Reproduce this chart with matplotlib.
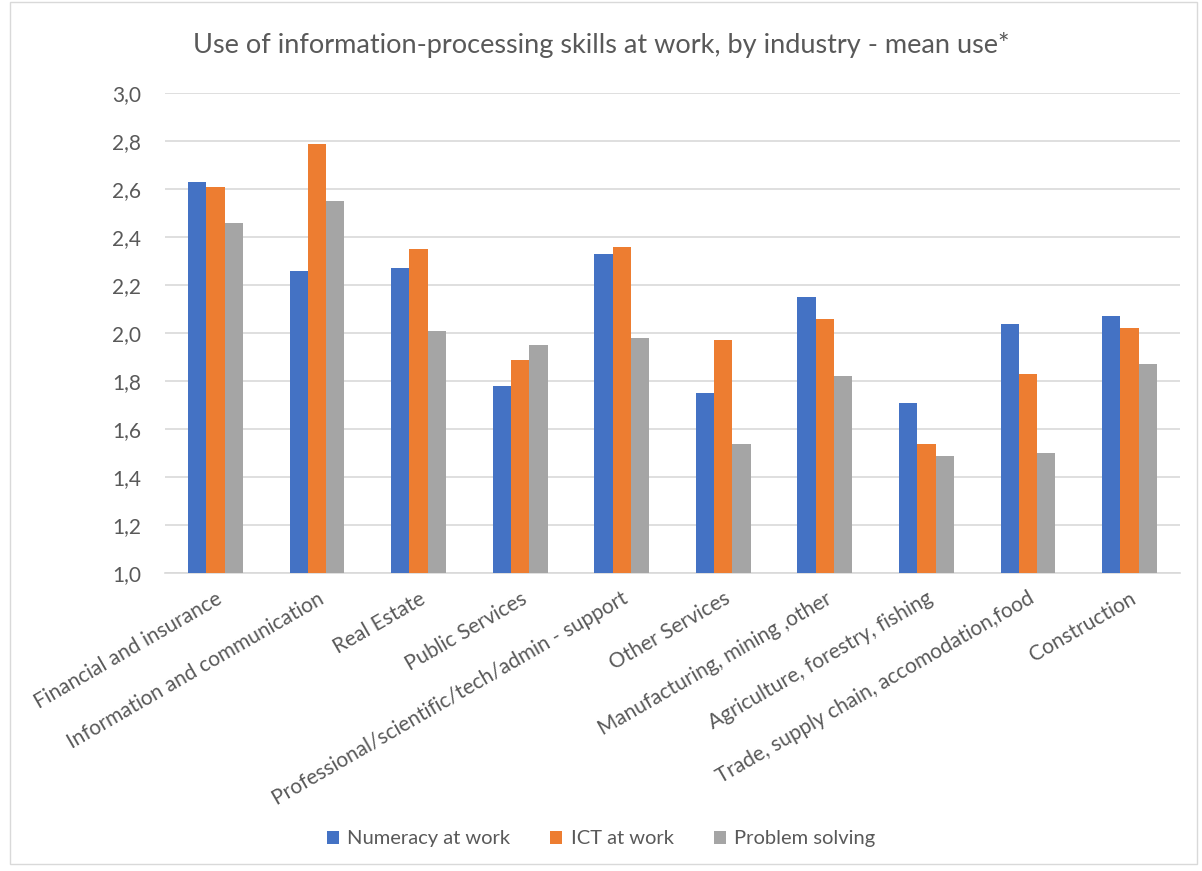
import matplotlib
matplotlib.use("Agg")
import matplotlib.pyplot as plt
import numpy as np
from matplotlib.patches import Rectangle

categories = ["Financial and insurance", "Information and communication", "Real Estate",
              "Public Services", "Professional/scientific/tech/admin - support",
              "Other Services", "Manufacturing, mining ,other",
              "Agriculture, forestry, fishing", "Trade, supply chain, accomodation,food",
              "Construction"]
numeracy = [2.63, 2.26, 2.27, 1.78, 2.33, 1.75, 2.15, 1.71, 2.04, 2.07]
ict = [2.61, 2.79, 2.35, 1.89, 2.36, 1.97, 2.06, 1.54, 1.83, 2.02]
problem = [2.46, 2.55, 2.01, 1.95, 1.98, 1.54, 1.82, 1.49, 1.50, 1.87]
series_names = ["Numeracy at work", "ICT at work", "Problem solving"]
colors = ["#4472C4", "#ED7D31", "#A5A5A5"]
yticks = [1.0, 1.2, 1.4, 1.6, 1.8, 2.0, 2.2, 2.4, 2.6, 2.8, 3.0]

plt.rcParams['font.family'] = ['Lato', 'DejaVu Sans']
txt = "#595959"

fig = plt.figure(figsize=(12.02, 8.71), dpi=100)
ax = fig.add_axes([0.137, 0.342, 0.845, 0.551])

x = np.arange(len(categories))
w = 0.18
for i, (vals, name, c) in enumerate(zip([numeracy, ict, problem], series_names, colors)):
    ax.bar(x + (i - 1) * w, np.array(vals) - 1.0, width=w, bottom=1.0, color=c, label=name, zorder=3)

ax.set_ylim(1.0, 3.0)
ax.set_xlim(-0.5, len(categories) - 0.5)
ax.set_yticks(yticks)
ax.set_yticklabels([f"{v:.1f}".replace(".", ",") for v in yticks], fontsize=15, color=txt)
ax.yaxis.grid(True, color="#D9D9D9", linewidth=1.2, zorder=0)
ax.tick_params(axis='y', length=0, pad=17)
ax.tick_params(axis='x', length=0, pad=11)
ax.set_xticks(x)
ax.set_xticklabels(categories, rotation=30, ha='right', rotation_mode='anchor', fontsize=15, color=txt)
for s in ["top", "right", "left"]:
    ax.spines[s].set_visible(False)
ax.spines["bottom"].set_color("#D9D9D9")
ax.spines["bottom"].set_linewidth(1.2)

fig.text(0.5, 0.948, "Use of information-processing skills at work, by industry - mean use*",
         ha='center', va='center', fontsize=19.5, color=txt)

leg = fig.legend(loc='center', bbox_to_anchor=(0.5, 0.037), ncol=3, frameon=False,
                 fontsize=14.5, handlelength=0.6, handleheight=0.6, handletextpad=0.4,
                 columnspacing=2.0)
for t in leg.get_texts():
    t.set_color(txt)

fig.patches.append(Rectangle((0.008, 0.008), 0.988, 0.99, transform=fig.transFigure,
                             fill=False, edgecolor="#D9D9D9", linewidth=1))

fig.savefig("out.png", dpi=100)
